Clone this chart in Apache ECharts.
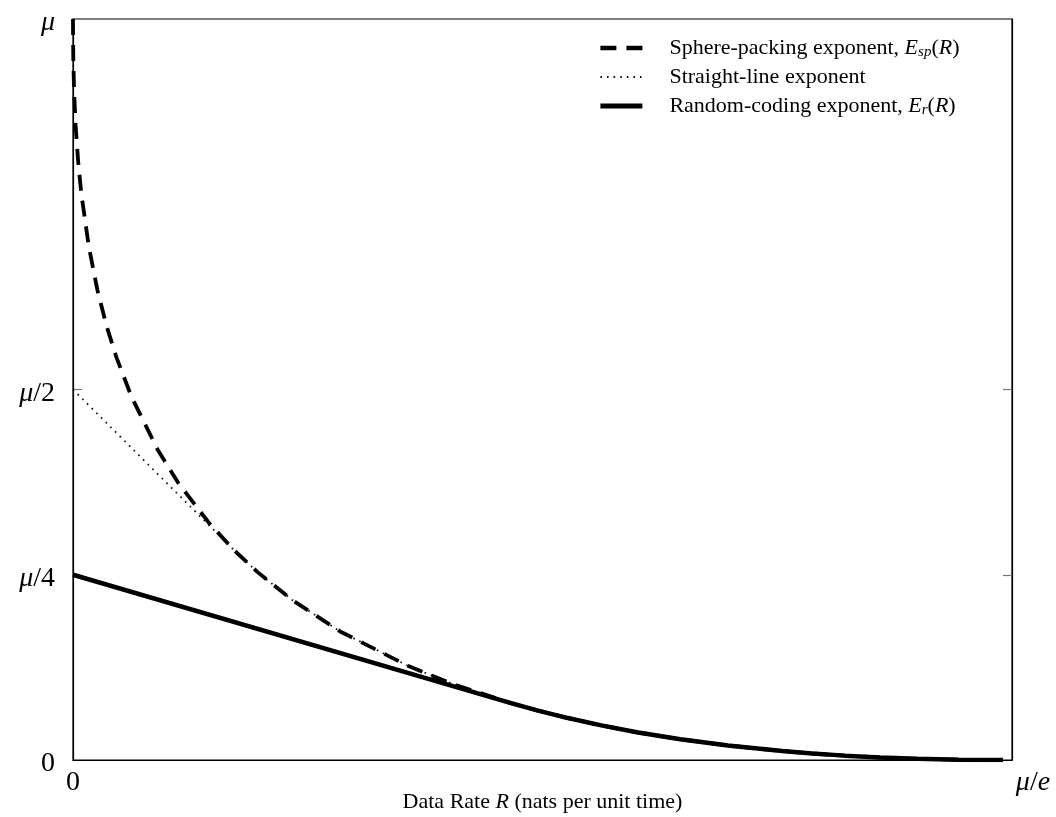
<!DOCTYPE html>
<html><head><meta charset="utf-8">
<script src="https://cdn.jsdelivr.net/npm/echarts@6/dist/echarts.min.js"></script>
<style>html,body{margin:0;padding:0;background:#fff}#c{width:1056px;height:817px}</style>
</head><body><div id="c"></div>
<script>
// Axis range (in units of mu); axis end slightly beyond capacity mu/e
const RATE_MAX = 0.3715;
const ENERGY_MAX = 1;
const yTickValues = [0.25, 0.5];
const yLabelValues = [0, 0.25, 0.5, 1];
const yLabelText = ['0', '{i|μ}{n|/4}', '{i|μ}{n|/2}', '{i|μ}'];
const xLabelValues = [0, RATE_MAX];
const xLabelText = ['0', '{i|μ}{n|/}{i|e}'];

const seriesNames = ['Sphere-packing exponent', 'Straight-line exponent', 'Random-coding exponent'];

// Sphere-packing exponent E_sp(R)
const spR = [0, 0.0000069, 0.0001285, 0.000436, 0.001049, 0.002064, 0.003293, 0.006226, 0.009601, 0.01327, 0.01715, 0.02318, 0.0335, 0.04173, 0.0538, 0.06406, 0.0728, 0.08675, 0.1057, 0.1327, 0.1507, 0.1733, 0.1840, 0.1958, 0.2090, 0.2236, 0.2403, 0.2591, 0.2806, 0.2925, 0.3053, 0.3191, 0.3341, 0.3502, 0.3606, 0.3679];
const spE = [1.0, 0.9852, 0.9435, 0.9019, 0.8557, 0.8066, 0.7643, 0.6935, 0.6351, 0.5859, 0.5436, 0.4898, 0.4188, 0.3736, 0.3199, 0.2820, 0.2542, 0.2159, 0.1735, 0.1268, 0.1020, 0.0767, 0.0666, 0.0566, 0.0467, 0.0371, 0.0280, 0.0196, 0.0121, 0.0088, 0.0059, 0.0035, 0.0016, 0.0004, 0.00007, 0];

// Straight-line exponent
const slR = [0, 0.06406, 0.0728, 0.08675, 0.1057, 0.1327, 0.1507, 0.1733];
const slE = [0.5, 0.2820, 0.2542, 0.2159, 0.1735, 0.1268, 0.1020, 0.0767];

// Random-coding exponent E_r(R)
const rcR = [0, 0.1733, 0.1840, 0.1958, 0.2090, 0.2236, 0.2403, 0.2591, 0.2806, 0.2925, 0.3053, 0.3191, 0.3341, 0.3502, 0.3606, 0.3679];
const rcE = [0.25, 0.0767, 0.0666, 0.0566, 0.0467, 0.0371, 0.0280, 0.0196, 0.0121, 0.0088, 0.0059, 0.0035, 0.0016, 0.0004, 0.00007, 0];

const zip = (a, b) => a.map((v, i) => [v, b[i]]);
const FONT = 'Liberation Serif';

const legendText = {
  'Sphere-packing exponent': '{lead|Sphere-packing exponent, }{i|E}{sub|sp}{n|(}{i|R}{n|)}',
  'Straight-line exponent': '{lead|Straight-line exponent}',
  'Random-coding exponent': '{lead|Random-coding exponent, }{i|E}{sub|r}{n|(}{i|R}{n|)}'
};
const legendLineWidths = [4.5, 1.8, 4.8];

const chart = echarts.init(document.getElementById('c'), null, {renderer: 'canvas'});
const axisRich = {
  i: {fontFamily: FONT, fontStyle: 'italic', fontSize: 28, color: '#000'},
  n: {fontFamily: FONT, fontSize: 28, color: '#000'}
};
chart.setOption({
  animation: false,
  backgroundColor: '#fff',
  grid: {left: 73, right: 44, top: 19, bottom: 57, show: true, borderColor: '#000', borderWidth: 1.2,
         containLabel: false, outerBoundsMode: 'none'},
  legend: {
    orient: 'vertical', left: 598, top: 36, padding: 0,
    itemWidth: 42, itemHeight: 14, itemGap: 5,
    data: seriesNames.map((n, i) => ({name: n, lineStyle: {width: legendLineWidths[i]}})),
    formatter: name => legendText[name],
    itemStyle: {opacity: 0, color: 'rgba(0,0,0,0)', borderWidth: 0},
    textStyle: {
      fontFamily: FONT, fontSize: 22, color: '#000', lineHeight: 24,
      rich: {
        lead: {fontFamily: FONT, fontSize: 22, color: '#000', padding: [0, 0, 0, 22], lineHeight: 24},
        n: {fontFamily: FONT, fontSize: 22, color: '#000', lineHeight: 24},
        i: {fontFamily: FONT, fontSize: 22, fontStyle: 'italic', color: '#000', lineHeight: 24},
        sub: {fontFamily: FONT, fontSize: 15, fontStyle: 'italic', color: '#000', lineHeight: 14, verticalAlign: 'bottom'}
      }
    }
  },
  xAxis: {
    type: 'value', min: 0, max: RATE_MAX,
    name: 'Data Rate {i|R} (nats per unit time)',
    nameLocation: 'middle', nameGap: 31, nameMoveOverlap: false,
    nameTextStyle: {fontFamily: FONT, fontSize: 22, color: '#000', verticalAlign: 'top',
      rich: {i: {fontFamily: FONT, fontSize: 22, fontStyle: 'italic', color: '#000'}}},
    axisLine: {show: true, lineStyle: {color: '#000', width: 1.2}},
    axisTick: {show: false},
    splitLine: {show: false},
    axisLabel: {
      customValues: xLabelValues,
      margin: 9,
      formatter: v => (Math.abs(v) < 1e-9 ? xLabelText[0] : '{p|}' + xLabelText[1]),
      rich: Object.assign({p: {width: 42}}, axisRich),
      fontFamily: FONT, fontSize: 28, color: '#000'
    }
  },
  yAxis: [{
    type: 'value', min: 0, max: ENERGY_MAX, position: 'left',
    axisLine: {show: true, lineStyle: {color: '#000', width: 1.2}},
    axisTick: {show: true, inside: true, length: 9, customValues: yTickValues, lineStyle: {color: '#777', width: 1.2}},
    splitLine: {show: false},
    axisLabel: {
      customValues: yLabelValues, margin: 18,
      formatter: v => yLabelText[yLabelValues.indexOf(v)],
      padding: [8, 0, 0, 0],
      rich: axisRich, fontFamily: FONT, fontSize: 28, color: '#000'
    }
  }, {
    type: 'value', min: 0, max: ENERGY_MAX, position: 'right',
    axisLine: {show: true, lineStyle: {color: '#000', width: 1.2}},
    axisTick: {show: true, inside: true, length: 9, customValues: yTickValues, lineStyle: {color: '#777', width: 1.2}},
    splitLine: {show: false},
    axisLabel: {show: false}
  }],
  series: [{
    name: seriesNames[0], type: 'line', symbol: 'none', smooth: false,
    data: zip(spR, spE),
    lineStyle: {color: '#000', width: 3.8, type: [16, 10], cap: 'butt'},
    itemStyle: {color: '#000'}
  }, {
    name: seriesNames[1], type: 'line', symbol: 'none',
    data: zip(slR, slE),
    lineStyle: {color: '#111', width: 1.8, type: [1.6, 5], cap: 'butt'},
    itemStyle: {color: '#111'}
  }, {
    name: seriesNames[2], type: 'line', symbol: 'none',
    data: zip(rcR, rcE),
    lineStyle: {color: '#000', width: 4.5, type: 'solid'},
    itemStyle: {color: '#000'}
  }]
});
</script>
</body></html>
